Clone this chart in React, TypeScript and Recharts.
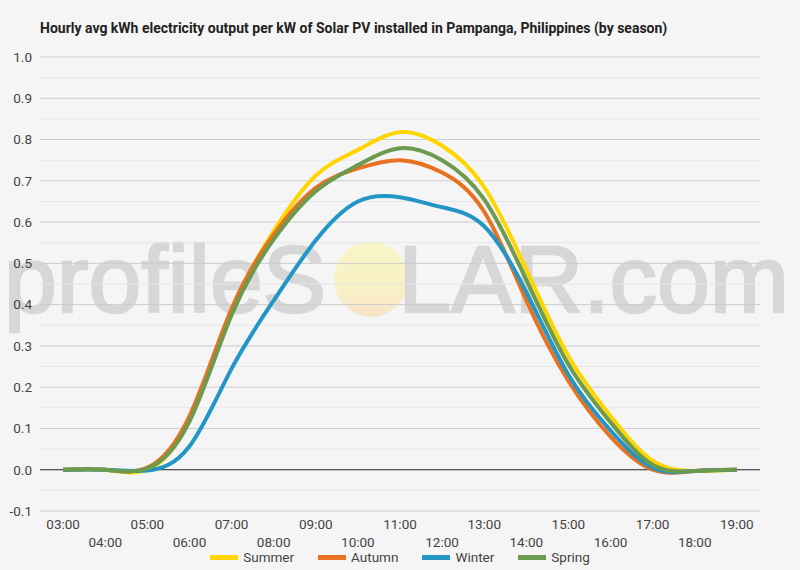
import React from "react";
import { LineChart, Line, XAxis, YAxis, CartesianGrid, ReferenceLine, Legend } from "recharts";

const hours = [3, 4, 5, 6, 7, 8, 9, 10, 11, 12, 13, 14, 15, 16, 17, 18, 19];
const hourLabels = ["03:00", "04:00", "05:00", "06:00", "07:00", "08:00", "09:00", "10:00", "11:00", "12:00", "13:00", "14:00", "15:00", "16:00", "17:00", "18:00", "19:00"];
const summer = [0, 0, 0, 0.12, 0.385, 0.578, 0.713, 0.775, 0.818, 0.785, 0.685, 0.485, 0.275, 0.13, 0.022, -0.003, 0];
const autumn = [0, 0, 0.005, 0.13, 0.39, 0.57, 0.683, 0.73, 0.75, 0.72, 0.625, 0.41, 0.215, 0.08, 0, -0.003, 0];
const winter = [0, 0, -0.002, 0.057, 0.245, 0.41, 0.556, 0.65, 0.66, 0.636, 0.59, 0.43, 0.23, 0.095, 0.005, -0.003, 0];
const spring = [0, 0, 0.003, 0.117, 0.375, 0.558, 0.675, 0.738, 0.779, 0.75, 0.655, 0.46, 0.255, 0.115, 0.012, -0.003, 0];

const yTicks = [-0.1, 0, 0.1, 0.2, 0.3, 0.4, 0.5, 0.6, 0.7, 0.8, 0.9, 1.0];
const minorLines = [-0.05, 0.05, 0.15, 0.25, 0.35, 0.45, 0.55, 0.65, 0.75, 0.85, 0.95];

const seriesNames = ["Summer", "Autumn", "Winter", "Spring"];
const seriesColors = ["#FFD500", "#E8721F", "#2396C6", "#6C9A4E"];

const data = hours.map((h, i) => ({
  hour: h,
  Summer: summer[i],
  Autumn: autumn[i],
  Winter: winter[i],
  Spring: spring[i],
}));

const FONT = "Roboto, 'Noto Sans', sans-serif";

const XTick = (props: any) => {
  const { x, y, payload } = props;
  const idx = hours.indexOf(payload.value);
  const row = payload.value % 2 === 1 ? 0 : 1;
  return (
    <text x={x} y={y + 10 + row * 18} textAnchor="middle" fill="#444" fontSize={13.5} fontFamily={FONT}>
      {hourLabels[idx]}
    </text>
  );
};

const LegendContent = () => (
  <div style={{ display: "flex", justifyContent: "center", alignItems: "center", height: 20, fontFamily: FONT, fontSize: 13.5, color: "#444" }}>
    {seriesNames.map((n, i) => (
      <div key={n} style={{ display: "flex", alignItems: "center", marginRight: i < seriesNames.length - 1 ? 24 : 0 }}>
        <div style={{ width: 28, height: 5, background: seriesColors[i], marginRight: 5 }} />
        <span>{n}</span>
      </div>
    ))}
  </div>
);

export default function App() {
  return (
    <div style={{ position: "absolute", left: 0, top: 0, width: 800, height: 570, background: "#f5f5f5", overflow: "hidden" }}>
      <svg width={800} height={570} style={{ position: "absolute", left: 0, top: 0 }}>
        <defs>
          <linearGradient id="sun" x1="0" y1="0" x2="0" y2="1">
            <stop offset="0%" stopColor="#f8f6c8" />
            <stop offset="60%" stopColor="#f8f1c6" />
            <stop offset="100%" stopColor="#f7e3c8" />
          </linearGradient>
        </defs>
        <text x={4} y={312} fontFamily="'Liberation Sans', Arial, sans-serif" fontSize={95} fill="#d7d7d7" stroke="#d7d7d7" strokeWidth={2.5}>profileS</text>
        <ellipse cx={371} cy={279} rx={37} ry={38} fill="url(#sun)" />
        <text x={789} y={312} textAnchor="end" fontFamily="'Liberation Sans', Arial, sans-serif" fontSize={95} fill="#d7d7d7" stroke="#d7d7d7" strokeWidth={2.5}>LAR.com</text>
      </svg>
      <div style={{ position: "absolute", left: 40, top: 19, fontFamily: FONT, fontWeight: "bold", fontSize: 14, lineHeight: "18px", color: "#222" }}>
        Hourly avg kWh electricity output per kW of Solar PV installed in Pampanga, Philippines (by season)
      </div>
      <div style={{ position: "absolute", left: 0, top: 0 }}>
        <LineChart width={800} height={570} data={data} margin={{ top: 57, right: 40, left: 0, bottom: 3 }}>
          <CartesianGrid vertical={false} stroke="#cccccc" />
          {minorLines.map((v) => (
            <ReferenceLine key={v} y={v} stroke="#e6e6e6" strokeWidth={1} />
          ))}
          <XAxis
            dataKey="hour"
            type="number"
            domain={[2.45, 19.55]}
            ticks={hours}
            interval={0}
            axisLine={false}
            tickLine={false}
            height={36}
            tick={<XTick />}
          />
          <YAxis
            type="number"
            domain={[-0.1, 1.0]}
            ticks={yTicks}
            allowDataOverflow
            width={40}
            axisLine={false}
            tickLine={false}
            tickFormatter={(v: number) => v.toFixed(1)}
            tick={{ fill: "#444", fontSize: 13.5, fontFamily: FONT }}
          />
          <ReferenceLine y={0} stroke="#333" strokeWidth={1} />
          <Legend verticalAlign="bottom" height={20} wrapperStyle={{ left: 0, width: 800 }} content={<LegendContent />} />
          {seriesNames.map((n, i) => (
            <Line
              key={n}
              dataKey={n}
              type="natural"
              stroke={seriesColors[i]}
              strokeWidth={4}
              dot={false}
              activeDot={false}
              isAnimationActive={false}
            />
          ))}
        </LineChart>
      </div>
    </div>
  );
}
